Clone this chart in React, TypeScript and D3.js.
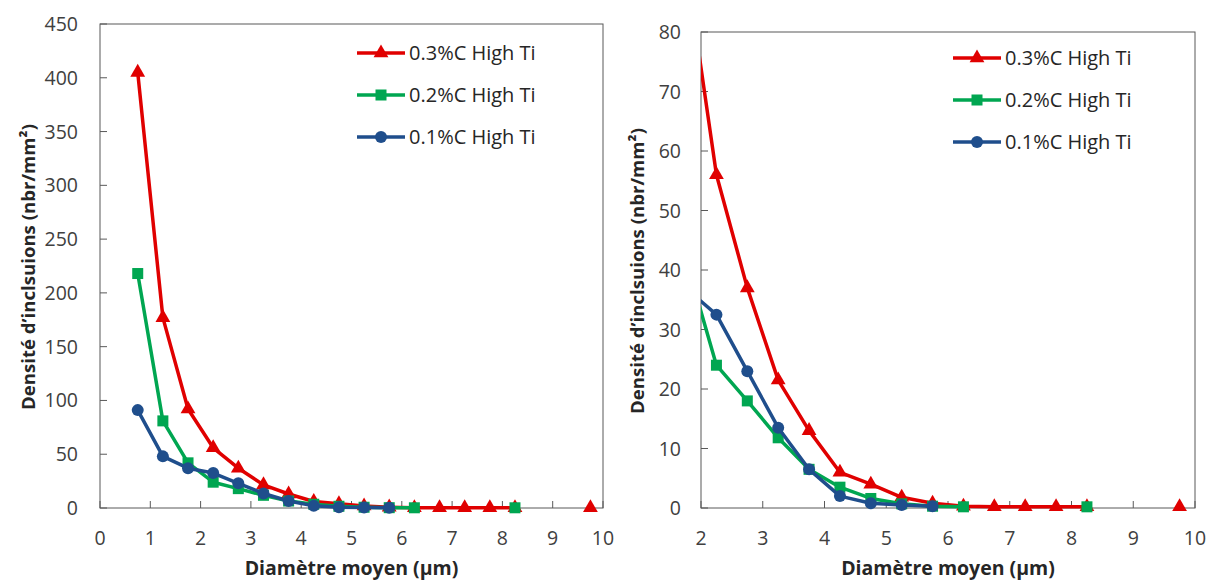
import React from "react";
import * as d3 from "d3";

const xValues = [0.75, 1.25, 1.75, 2.25, 2.75, 3.25, 3.75, 4.25, 4.75, 5.25, 5.75, 6.25, 6.75, 7.25, 7.75, 8.25, 8.75, 9.25, 9.75];
const red03 = [405, 177, 92, 56, 37, 21.5, 13, 6, 4, 1.8, 0.8, 0.3, 0.2, 0.2, 0.2, 0.2, null, null, 0.2];
const green02 = [218, 81, 42, 24, 18, 11.8, 6.5, 3.5, 1.6, 0.7, 0.3, 0.2, null, null, null, 0.2, null, null, null];
const blue01 = [91, 48, 37, 32.5, 23, 13.5, 6.5, 2, 0.8, 0.5, 0.3, null, null, null, null, null, null, null, null];

const seriesNames = ["0.3%C High Ti", "0.2%C High Ti", "0.1%C High Ti"];
const seriesColors = ["#E00000", "#00A651", "#1F4E8C"];
const seriesShapes = ["triangle", "square", "circle"];
const seriesValues = [red03, green02, blue01];

const leftYTicks = [0, 50, 100, 150, 200, 250, 300, 350, 400, 450];
const rightYTicks = [0, 10, 20, 30, 40, 50, 60, 70, 80];
const leftXTicks = [0, 1, 2, 3, 4, 5, 6, 7, 8, 9, 10];
const rightXTicks = [2, 3, 4, 5, 6, 7, 8, 9, 10];

const yTitle = "Densité d’inclsuions (nbr/mm²)";
const xTitle = "Diamètre moyen (µm)";

const FONT = "'Open Sans', sans-serif";

function Marker({ shape, x, y, color }: { shape: string; x: number; y: number; color: string }) {
  if (shape === "triangle") {
    const s = d3.symbol(d3.symbolTriangle, 95)();
    return <path d={s || ""} transform={`translate(${x},${y})`} fill={color} />;
  }
  if (shape === "square") {
    return <rect x={x - 5.5} y={y - 5.5} width={11} height={11} fill={color} />;
  }
  return <circle cx={x} cy={y} r={6} fill={color} />;
}

function Panel({
  id, left, right, top, bottom, xDomain, yDomain, xTicks, yTicks, legendX, legendY, legendGap, yTitleX, yLabelGap,
}: any) {
  const x = d3.scaleLinear().domain(xDomain).range([left, right]);
  const y = d3.scaleLinear().domain(yDomain).range([bottom, top]);
  const order = [0, 1, 2];
  return (
    <g>
      <defs>
        <clipPath id={`clip-${id}`}>
          <rect x={left} y={top - 10} width={right - left + 10} height={bottom - top + 20} />
        </clipPath>
      </defs>
      <rect x={left} y={top} width={right - left} height={bottom - top} fill="none" stroke="#595959" strokeWidth={1} />
      {yTicks.map((t: number) => (
        <g key={`y${t}`}>
          <line x1={left} x2={left + 7} y1={y(t)} y2={y(t)} stroke="#595959" />
          <text x={left - yLabelGap} y={y(t)} dy="0.36em" textAnchor="end" fontSize={19.5} fill="#404040" fontFamily={FONT}>{t}</text>
        </g>
      ))}
      {xTicks.map((t: number) => (
        <g key={`x${t}`}>
          <line x1={x(t)} x2={x(t)} y1={bottom} y2={bottom - 7} stroke="#595959" />
          <text x={x(t)} y={bottom + 37} textAnchor="middle" fontSize={19.5} fill="#404040" fontFamily={FONT}>{t}</text>
        </g>
      ))}
      <text x={(left + right) / 2} y={575} textAnchor="middle" fontSize={19.5} fontWeight="bold" fill="#262626" fontFamily={FONT}>{xTitle}</text>
      <text transform={`translate(${yTitleX},${(top + bottom) / 2 + 1}) rotate(-90)`} textAnchor="middle" fontSize={18.6} fontWeight="bold" fill="#262626" fontFamily={FONT}>{yTitle}</text>
      <g clipPath={`url(#clip-${id})`}>
        {order.map((si) => {
          const vals = seriesValues[si];
          const line = d3.line<number | null>()
            .defined((d) => d !== null)
            .x((_, i) => x(xValues[i]))
            .y((d) => y(d as number));
          return (
            <g key={si}>
              <path d={line(vals) || ""} fill="none" stroke={seriesColors[si]} strokeWidth={3.5} strokeLinejoin="round" />
              {vals.map((v, i) => v === null ? null : (
                <Marker key={i} shape={seriesShapes[si]} x={x(xValues[i])} y={y(v)} color={seriesColors[si]} />
              ))}
            </g>
          );
        })}
      </g>
      {seriesNames.map((name, si) => {
        const ly = legendY + si * legendGap;
        return (
          <g key={name}>
            <line x1={legendX} x2={legendX + 48} y1={ly} y2={ly} stroke={seriesColors[si]} strokeWidth={3.5} />
            <Marker shape={seriesShapes[si]} x={legendX + 24} y={ly} color={seriesColors[si]} />
            <text x={legendX + 52} y={ly} dy="0.36em" fontSize={20} fill="#262626" fontFamily={FONT}>{name}</text>
          </g>
        );
      })}
    </g>
  );
}

export default function App() {
  return (
    <svg width={1214} height={585} style={{ position: "absolute", left: 0, top: 0, background: "#fff" }}>
      <Panel id="a" left={100} right={603} top={24} bottom={508} xDomain={[0, 10]} yDomain={[0, 450]}
        xTicks={leftXTicks} yTicks={leftYTicks} legendX={357} legendY={53} legendGap={42} yTitleX={35} yLabelGap={22} />
      <Panel id="b" left={701} right={1195} top={32} bottom={508} xDomain={[2, 10]} yDomain={[0, 80]}
        xTicks={rightXTicks} yTicks={rightYTicks} legendX={953} legendY={58} legendGap={42} yTitleX={644} yLabelGap={20} />
    </svg>
  );
}
